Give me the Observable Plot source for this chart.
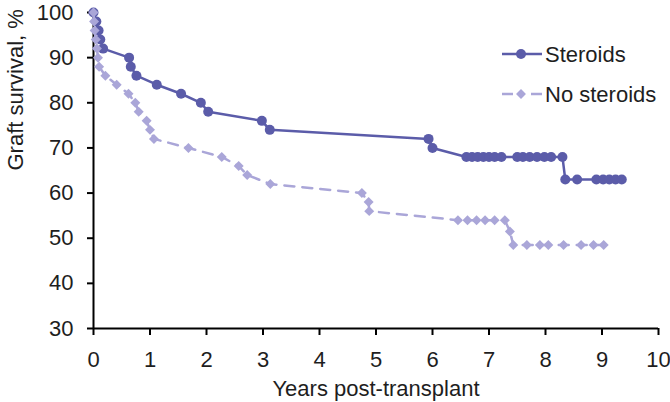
<!DOCTYPE html>
<html><head><meta charset="utf-8">
<script src="https://cdn.jsdelivr.net/npm/d3@7"></script>
<script src="https://cdn.jsdelivr.net/npm/@observablehq/plot@0.6"></script>
<style>body{margin:0;background:#fff}</style>
</head><body><div id="chart"></div>
<script>
const seriesNames = ["Steroids", "No steroids"];
const steroidYears = [0, 0.05, 0.09, 0.12, 0.17, 0.63, 0.66, 0.76, 1.12, 1.55, 1.9, 2.03, 2.98, 3.12, 5.93, 6.0,
  6.6, 6.7, 6.8, 6.9, 7.0, 7.1, 7.22, 7.5, 7.6, 7.72, 7.85, 7.98, 8.1, 8.3,
  8.35, 8.56, 8.9, 9.02, 9.13, 9.24, 9.35];
const steroidSurvival = [100, 98, 96, 94, 92, 90, 88, 86, 84, 82, 80, 78, 76, 74, 72, 70,
  68, 68, 68, 68, 68, 68, 68, 68, 68, 68, 68, 68, 68, 68,
  63, 63, 63, 63, 63, 63, 63];
const noSteroidYears = [0, 0.01, 0.02, 0.04, 0.06, 0.08, 0.1, 0.21, 0.41, 0.62, 0.74, 0.8, 0.94, 1.0, 1.07,
  1.68, 2.27, 2.57, 2.72, 3.13, 4.75, 4.87, 4.88,
  6.45, 6.62, 6.78, 6.93, 7.1, 7.28, 7.37,
  7.43, 7.67, 7.9, 8.05, 8.32, 8.63, 8.85, 9.03];
const noSteroidSurvival = [100, 98, 96, 94, 92, 90, 88, 86, 84, 82, 80, 78, 76, 74, 72,
  70, 68, 66, 64, 62, 60, 58, 56,
  54, 54, 54, 54, 54, 54, 51.5,
  48.5, 48.5, 48.5, 48.5, 48.5, 48.5, 48.5, 48.5];
const xTicks = [0, 1, 2, 3, 4, 5, 6, 7, 8, 9, 10];
const yTicks = [30, 40, 50, 60, 70, 80, 90, 100];
const xLabel = "Years post-transplant";
const yLabel = "Graft survival, %";

const colSteroid = "#5b5ca9";
const colNo = "#aaa6d8";
const font = "'Liberation Sans', Arial, sans-serif";
const fs = 22;

const steroids = steroidYears.map((x, i) => ({x, y: steroidSurvival[i]}));
const noSteroids = noSteroidYears.map((x, i) => ({x, y: noSteroidSurvival[i]}));

const plot = Plot.plot({
  width: 670, height: 402,
  marginLeft: 93, marginRight: 12, marginTop: 12, marginBottom: 74,
  style: {fontSize: fs + "px", fontFamily: font, color: "#1e1e1e", background: "white", overflow: "visible"},
  x: {domain: [0, 10]},
  y: {domain: [30, 100]},
  marks: [
    Plot.ruleY([30], {stroke: "black", strokeWidth: 2}),
    Plot.ruleX([0], {stroke: "black", strokeWidth: 2}),
    Plot.axisX({ticks: xTicks, tickSize: 7, tickPadding: 16, tickFormat: d => String(d), label: null, stroke: "black", strokeWidth: 2}),
    Plot.axisY({ticks: yTicks, tickSize: 6, tickPadding: 14, tickFormat: d => String(d), label: null, stroke: "black", strokeWidth: 2}),
    Plot.text([xLabel], {frameAnchor: "bottom", dy: 67, text: d => d, fontSize: fs}),
    Plot.text([yLabel], {frameAnchor: "left", dx: -78, rotate: -90, text: d => d, fontSize: fs}),
    Plot.line(steroids, {x: "x", y: "y", stroke: colSteroid, strokeWidth: 2.5}),
    Plot.dot(steroids, {x: "x", y: "y", r: 5, fill: colSteroid, symbol: "circle"}),
    Plot.line(noSteroids, {x: "x", y: "y", stroke: colNo, strokeWidth: 2.5, strokeDasharray: "10,8"}),
    Plot.dot(noSteroids, {x: "x", y: "y", r: 4.5, fill: colNo, symbol: "diamond2"})
  ]
});

// legend
const svg = d3.select(plot);
const lg = svg.append("g").attr("font-family", font).attr("font-size", fs).attr("fill", "#1e1e1e").attr("text-anchor", "start");
const rows = [
  {name: seriesNames[0], color: colSteroid, dash: null, sym: d3.symbolCircle, size: Math.PI * 25},
  {name: seriesNames[1], color: colNo, dash: "11,18", sym: d3.symbolDiamond2, size: Math.PI * 20}
];
rows.forEach((r, i) => {
  const y = 54 + i * 40;
  lg.append("line").attr("x1", 502).attr("x2", 542).attr("y1", y).attr("y2", y)
    .attr("stroke", r.color).attr("stroke-width", 2.5).attr("stroke-dasharray", r.dash);
  lg.append("path").attr("d", d3.symbol(r.sym, r.size)()).attr("transform", `translate(521,${y})`).attr("fill", r.color);
  lg.append("text").attr("x", 545).attr("y", y).attr("dy", "0.35em").text(r.name);
});

document.getElementById("chart").append(plot);
</script>
</body></html>
